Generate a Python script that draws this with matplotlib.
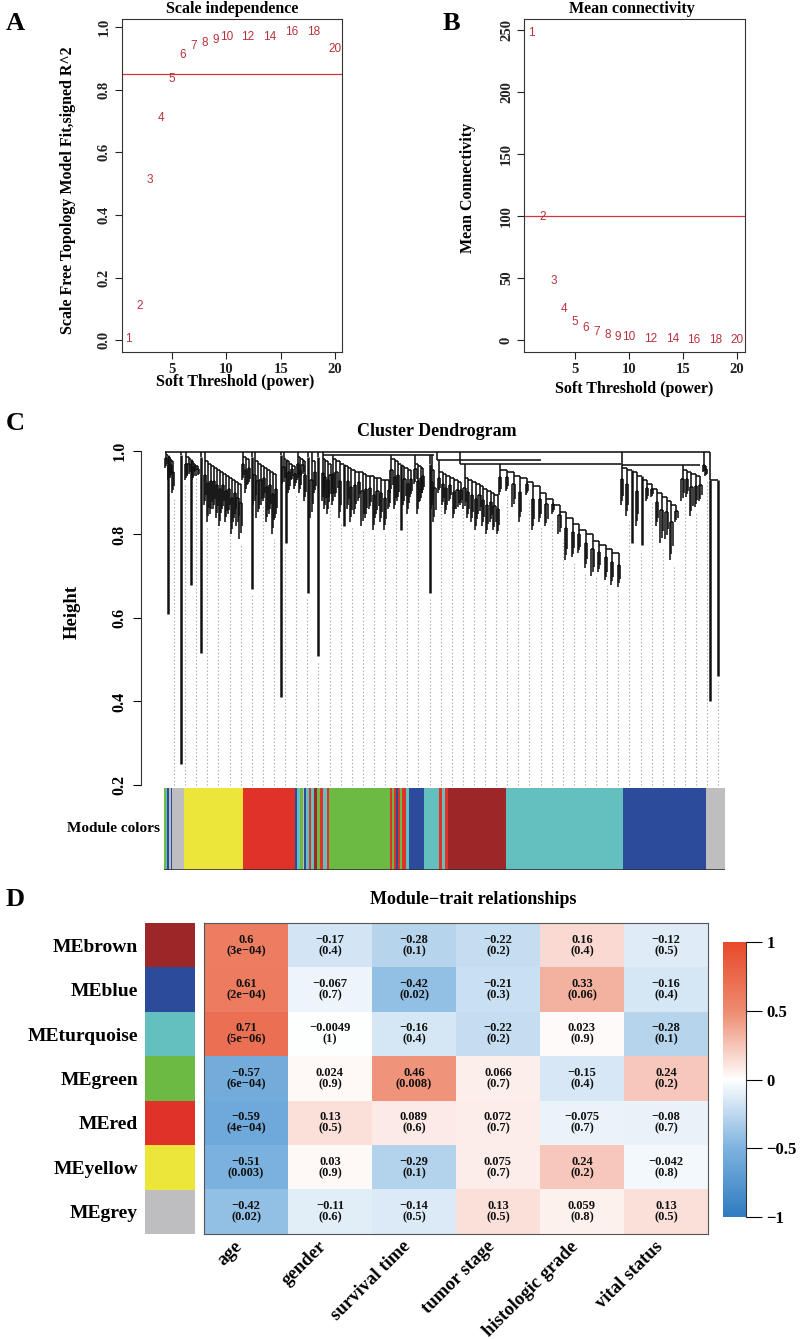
import matplotlib
matplotlib.use('Agg')
import matplotlib.pyplot as plt
import numpy as np
from matplotlib.collections import LineCollection
from matplotlib.colors import LinearSegmentedColormap

SERIF = 'Liberation Serif'
SANS = 'Liberation Sans'
plt.rcParams['font.family'] = SERIF
plt.rcParams['font.weight'] = 'bold'

# ---------------- data: soft threshold (A, B) ----------------
powers = [1, 2, 3, 4, 5, 6, 7, 8, 9, 10, 12, 14, 16, 18, 20]
fit_r2 = [0.005, 0.11, 0.51, 0.71, 0.835, 0.91, 0.94, 0.95, 0.96, 0.97, 0.97, 0.97, 0.985, 0.985, 0.93]
mean_k = [248, 99, 47.5, 25, 14.5, 9.7, 6.5, 4.2, 2.6, 2.2, 1.0, 0.5, 0.3, 0.3, 0.2]
r2_cut = 0.85
k_cut = 100

# ---------------- data: dendrogram (C), gene order in 0..1000 ----------------
den_span = [(2, 14), (28, 28), (38, 58), (65, 65), (72, 135),
            (140, 150), (156, 156), (160, 198), (208, 208), (212, 232),
            (238, 250), (255, 255), (262, 268), (274, 274),
            (282, 296), (300, 400), (405, 440), (448, 462), (474, 474), (478, 482),
            (490, 530), (536, 596), (600, 812),
            (818, 915), (926, 958), (965, 968), (975, 990)]
den_join = [0.998] * 14 + [0.99] * 6 + [0.978, 0.97, 0.97, 0.966, 0.966, 0.998, 0.998]
den_tops = [
    [0.995, 0.99, 0.985, 0.98, 0.975],
    [0.99],
    [0.99, 0.985, 0.98, 0.975, 0.97, 0.965],
    [0.985],
    [0.98, 0.975, 0.97, 0.965, 0.96, 0.955, 0.95, 0.945, 0.94, 0.935, 0.93, 0.925, 0.92],
    [0.99, 0.985, 0.98],
    [0.985],
    [0.98, 0.975, 0.97, 0.965, 0.96, 0.955, 0.95, 0.945],
    [0.99],
    [0.985, 0.98, 0.975, 0.97, 0.965],
    [0.99, 0.985, 0.98, 0.975],
    [0.985],
    [0.98, 0.975],
    [0.985],
    [0.985, 0.98, 0.975, 0.97],
    [0.985, 0.98, 0.975, 0.97, 0.965, 0.96, 0.955, 0.95, 0.95, 0.945, 0.94, 0.94, 0.935, 0.935, 0.93, 0.93],
    [0.985, 0.98, 0.975, 0.97, 0.965, 0.96, 0.955],
    [0.975, 0.97, 0.965, 0.96],
    [0.97],
    [0.96, 0.955],
    [0.955, 0.95, 0.945, 0.94, 0.935, 0.93, 0.925],
    [0.94, 0.935, 0.93, 0.925, 0.92, 0.915, 0.91, 0.905, 0.90, 0.895],
    [0.96, 0.955, 0.95, 0.94, 0.935, 0.925, 0.915, 0.90, 0.885, 0.87, 0.855, 0.84, 0.825, 0.81, 0.80,
     0.785, 0.775, 0.765, 0.755],
    [0.965, 0.96, 0.955, 0.95, 0.94, 0.93, 0.92, 0.91, 0.90, 0.89, 0.88, 0.87],
    [0.96, 0.955, 0.95, 0.945, 0.94],
    [0.975, 0.965],
    [0.93, 0.93],
]
den_bottoms = [
    [0.96, 0.61, 0.93, 0.94, 0.90],
    [0.25],
    [0.93, 0.94, 0.68, 0.93, 0.95, 0.94],
    [0.515],
    [0.87, 0.83, 0.85, 0.86, 0.84, 0.82, 0.86, 0.83, 0.85, 0.80, 0.84, 0.82, 0.79],
    [0.93, 0.90, 0.92],
    [0.67],
    [0.87, 0.84, 0.86, 0.88, 0.83, 0.85, 0.80, 0.84],
    [0.41],
    [0.92, 0.78, 0.90, 0.93, 0.91],
    [0.93, 0.90, 0.94, 0.88],
    [0.66],
    [0.84, 0.90],
    [0.51],
    [0.88, 0.86, 0.85, 0.89],
    [0.87, 0.89, 0.84, 0.82, 0.86, 0.83, 0.85, 0.88, 0.82, 0.84, 0.86, 0.81, 0.85, 0.83, 0.81, 0.86],
    [0.90, 0.86, 0.88, 0.81, 0.87, 0.85, 0.89],
    [0.92, 0.85, 0.88, 0.90],
    [0.66],
    [0.86, 0.83],
    [0.90, 0.87, 0.85, 0.88, 0.84, 0.86, 0.87],
    [0.86, 0.84, 0.83, 0.81, 0.85, 0.82, 0.80, 0.83, 0.81, 0.80],
    [0.895, 0.905, 0.865, 0.83, 0.895, 0.81, 0.83, 0.82, 0.85, 0.80, 0.74, 0.745, 0.755, 0.72, 0.70,
     0.71, 0.69, 0.68, 0.675],
    [0.87, 0.845, 0.78, 0.82, 0.775, 0.88, 0.89, 0.82, 0.78, 0.79, 0.74, 0.83],
    [0.88, 0.89, 0.845, 0.865, 0.88],
    [0.95, 0.94],
    [0.40, 0.46],
]
den_links = [(0, 975, 0.998), (282, 482, 0.99), (486, 672, 0.978), (528, 816, 0.97), (818, 958, 0.966)]
n_guides = 50

# module colour strip: (end position, module)
strip = [(3, 'green'), (5, 'turquoise'), (9, 'blue'), (12, 'grey'), (15, 'blue'), (35, 'grey'),
         (140, 'yellow'), (233, 'red'),
         (237, 'blue'), (243, 'turquoise'), (247, 'green'), (250, 'grey'), (254, 'blue'),
         (259, 'turquoise'), (262, 'red'), (268, 'turquoise'), (272, 'brown'), (278, 'green'),
         (283, 'red'), (290, 'turquoise'), (294, 'red'), (403, 'green'),
         (407, 'red'), (410, 'green'), (413, 'red'), (418, 'blue'), (421, 'red'), (425, 'green'),
         (431, 'red'), (436, 'turquoise'), (464, 'blue'), (490, 'turquoise'), (495, 'red'),
         (500, 'turquoise'), (506, 'red'), (610, 'brown'), (818, 'turquoise'), (967, 'blue'),
         (1000, 'grey')]

# ---------------- data: module-trait heatmap (D) ----------------
modules = ['brown', 'blue', 'turquoise', 'green', 'red', 'yellow', 'grey']
traits = ['age', 'gender', 'survival time', 'tumor stage', 'histologic grade', 'vital status']
cor = [
    [0.6, -0.17, -0.28, -0.22, 0.16, -0.12],
    [0.61, -0.067, -0.42, -0.21, 0.33, -0.16],
    [0.71, -0.0049, -0.16, -0.22, 0.023, -0.28],
    [-0.57, 0.024, 0.46, 0.066, -0.15, 0.24],
    [-0.59, 0.13, 0.089, 0.072, -0.075, -0.08],
    [-0.51, 0.03, -0.29, 0.075, 0.24, -0.042],
    [-0.42, -0.11, -0.14, 0.13, 0.059, 0.13],
]
pval = [
    ['3e-04', '0.4', '0.1', '0.2', '0.4', '0.5'],
    ['2e-04', '0.7', '0.02', '0.3', '0.06', '0.4'],
    ['5e-06', '1', '0.4', '0.2', '0.9', '0.1'],
    ['6e-04', '0.9', '0.008', '0.7', '0.4', '0.2'],
    ['4e-04', '0.5', '0.6', '0.7', '0.7', '0.7'],
    ['0.003', '0.9', '0.1', '0.7', '0.2', '0.8'],
    ['0.02', '0.6', '0.5', '0.5', '0.8', '0.5'],
]

mod_hex = {'brown': '#9D2728', 'blue': '#2C4B9B', 'turquoise': '#63C0BE', 'green': '#6CB944',
           'red': '#E1322A', 'yellow': '#ECE63B', 'grey': '#BEBEC0'}
RED_TXT = '#B8323C'
RED_LINE = '#D8353A'

W, H = 800, 1339
fig = plt.figure(figsize=(W / 100, H / 100), dpi=100)


def box(x0, y0, x1, y1):
    return [x0 / W, 1 - y1 / H, (x1 - x0) / W, (y1 - y0) / H]


def ftext(x, y, s, **kw):
    kw.setdefault('ha', 'center')
    kw.setdefault('va', 'center')
    fig.text(x / W, 1 - y / H, s, **kw)


def mstr(s):
    return str(s).replace('-', '\u2212')


def sft_axes(ax):
    for sp in ax.spines.values():
        sp.set_color('#333333')
        sp.set_linewidth(0.8)
    ax.tick_params(direction='out', length=5, width=0.8, labelsize=10.5, pad=3, colors='#222222')
    for lbl in ax.get_yticklabels():
        lbl.set_rotation(90)
        lbl.set_va('center')


# ---- A ----
axA = fig.add_axes(box(122, 19, 342, 352))
for p, v in zip(powers, fit_r2):
    axA.text(p, v, str(p), color=RED_TXT, fontsize=8.5, family=SANS, weight='normal',
             ha='center', va='center')
axA.axhline(r2_cut, color=RED_LINE, lw=0.9)
axA.set_xlim(0.4, 20.64)
axA.set_ylim(-0.038, 1.026)
axA.set_xticks([5, 10, 15, 20])
axA.set_yticks([0, 0.2, 0.4, 0.6, 0.8, 1.0])
axA.set_yticklabels(['0.0', '0.2', '0.4', '0.6', '0.8', '1.0'])
sft_axes(axA)

# ---- B ----
axB = fig.add_axes(box(524, 19, 745, 352))
for p, v in zip(powers, mean_k):
    axB.text(p, v, str(p), color=RED_TXT, fontsize=8.5, family=SANS, weight='normal',
             ha='center', va='center')
axB.axhline(k_cut, color=RED_LINE, lw=0.9)
axB.set_xlim(0.28, 20.74)
axB.set_ylim(-9.7, 258.9)
axB.set_xticks([5, 10, 15, 20])
axB.set_yticks([0, 50, 100, 150, 200, 250])
sft_axes(axB)

ftext(232, 9, 'Scale independence', fontsize=11.5)
ftext(632, 9, 'Mean connectivity', fontsize=11.5)
ftext(235, 382, 'Soft Threshold (power)', fontsize=11.5)
ftext(634, 389, 'Soft Threshold (power)', fontsize=11.5)
ftext(68, 190, 'Scale Free Topology Model Fit,signed R^2', rotation=90, fontsize=11.5)
ftext(468, 188, 'Mean Connectivity', rotation=90, fontsize=11.5)

# ---- C: dendrogram ----
axC = fig.add_axes(box(164, 440, 725, 786))
segs_thin, segs_thick = [], []
leaf_x, leaf_b = [], []
for (l, r), j, tops, bots in zip(den_span, den_join, den_tops, den_bottoms):
    xs = np.linspace(l, r, len(tops))
    segs_thin.append([(xs[0], j), (xs[0], tops[0])])
    for i, (x, t, b) in enumerate(zip(xs, tops, bots)):
        if i > 0:
            segs_thin.append([(xs[i - 1], t), (x, t)])
        leaf_x.append(x)
        leaf_b.append(b)
        if t - b > 0.15:
            segs_thick.append([(x, t), (x, b)])
        else:
            f = t - 0.35 * (t - b)
            segs_thin.append([(x, t), (x, f)])
            segs_thin.append([(x - 2.0, f), (x + 2.0, f)])
            segs_thin.append([(x - 2.0, f), (x - 2.0, b)])
            segs_thin.append([(x + 2.0, f), (x + 2.0, b + 0.35 * (f - b))])
            segs_thin.append([(x, f), (x, b + 0.15 * (f - b))])
for l, r, h in den_links:
    segs_thin.append([(l, h), (r, h)])
    segs_thin.append([(l, den_links[0][2]), (l, h)])

leaf_x = np.array(leaf_x)
leaf_b = np.array(leaf_b)
guide_x = np.linspace(16, 990, n_guides)
guide_segs = []
for g in guide_x:
    top = min(leaf_b[np.argmin(np.abs(leaf_x - g))] - 0.012, 0.95)
    guide_segs.append([(g, 0.2), (g, top)])
axC.add_collection(LineCollection(guide_segs, colors='#9A9A9A', linewidths=0.8,
                                  linestyles=(0, (1, 2.2)), zorder=1))
axC.add_collection(LineCollection(segs_thin, colors='#111111', linewidths=1.15, zorder=2))
axC.add_collection(LineCollection(segs_thick, colors='#111111', linewidths=1.8, zorder=2))
axC.set_xlim(-2, 1002)
axC.set_ylim(0.1976, 1.0263)
for s in ['top', 'right', 'bottom']:
    axC.spines[s].set_visible(False)
axC.spines['left'].set_position(('outward', 16.6))
axC.spines['left'].set_bounds(0.2, 1.0)
axC.spines['left'].set_color('#333333')
axC.spines['left'].set_linewidth(0.8)
axC.set_xticks([])
axC.set_yticks([0.2, 0.4, 0.6, 0.8, 1.0])
axC.set_yticklabels(['0.2', '0.4', '0.6', '0.8', '1.0'], rotation=90, va='center')
axC.tick_params(axis='y', direction='out', length=5.5, width=0.8, labelsize=11.5, pad=4)

axM = fig.add_axes(box(164, 788, 725, 870))
start = 0
for end, m in strip:
    axM.bar(start, 1, width=end - start, align='edge', color=mod_hex[m], linewidth=0)
    start = end
axM.set_xlim(0, 1000)
axM.set_ylim(0, 1)
axM.axis('off')
axM.axhline(0, color='#333333', lw=1.2)

ftext(437, 432, 'Cluster Dendrogram', fontsize=13)
ftext(72, 612, 'Height', rotation=90, fontsize=13.5)
ftext(160, 829, 'Module colors', ha='right', fontsize=11)

# ---- D: module-trait heatmap ----
cmap = LinearSegmentedColormap.from_list(
    'bwr_wgcna', [(0.0, '#2F7CC0'), (0.25, '#7EB3E0'), (0.5, '#FFFFFF'),
                  (0.75, '#EE8B70'), (1.0, '#E84A2A')])

axS = fig.add_axes(box(145, 923, 195, 1234))
axS.barh(np.arange(len(modules)), 1, height=1, left=0, color=[mod_hex[m] for m in modules],
         linewidth=0)
axS.set_xlim(0, 1)
axS.set_ylim(len(modules) - 0.5, -0.5)
for sp in axS.spines.values():
    sp.set_visible(False)
axS.set_xticks([])
axS.set_yticks(np.arange(len(modules)))
axS.set_yticklabels(['ME' + m for m in modules], fontsize=14)
axS.tick_params(axis='y', length=0, pad=5)

axH = fig.add_axes(box(204, 923, 708, 1234))
axH.imshow(np.array(cor), cmap=cmap, vmin=-1, vmax=1, aspect='auto')
for i in range(len(modules)):
    for j in range(len(traits)):
        axH.text(j, i, f'{mstr(repr(cor[i][j]))}\n({mstr(pval[i][j])})', ha='center',
                 va='center', fontsize=9, linespacing=0.92, color='#111111')
for sp in axH.spines.values():
    sp.set_color('#555555')
    sp.set_linewidth(0.8)
axH.set_yticks([])
axH.set_xticks(np.arange(len(traits)))
axH.set_xticklabels(traits, rotation=45, ha='right', va='top', fontsize=13.5)
axH.tick_params(axis='x', length=0, pad=3)

axCB = fig.add_axes(box(723, 942, 746, 1217))
axCB.imshow(np.linspace(-1, 1, 256).reshape(-1, 1), cmap=cmap, vmin=-1, vmax=1,
            aspect='auto', origin='lower', extent=[0, 1, -1, 1])
for s in ['left', 'top', 'bottom']:
    axCB.spines[s].set_visible(False)
axCB.spines['right'].set_color('#333333')
axCB.spines['right'].set_linewidth(0.8)
axCB.set_xticks([])
axCB.yaxis.tick_right()
axCB.set_yticks([-1, -0.5, 0, 0.5, 1])
axCB.set_yticklabels(['\u22121', '\u22120.5', '0', '0.5', '1'])
axCB.tick_params(axis='y', direction='out', length=11.5, width=0.8, labelsize=12, pad=3)

ftext(473, 900, 'Module\u2212trait relationships', fontsize=13)

for letter, x, y in [('A', 15, 23), ('B', 451, 23), ('C', 15, 424), ('D', 15, 900)]:
    ftext(x, y, letter, fontsize=19)

fig.savefig('out.png', dpi=100)
